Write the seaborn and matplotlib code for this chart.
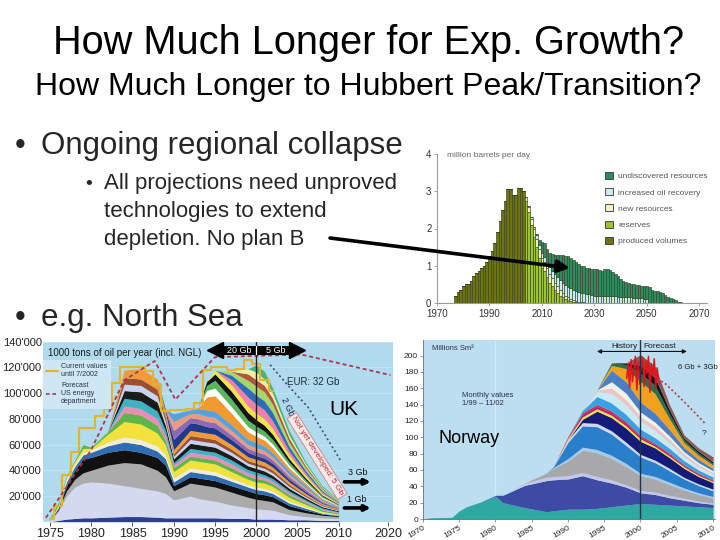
import numpy as np
import pandas as pd
import matplotlib
matplotlib.use("Agg")
import matplotlib.pyplot as plt
import seaborn as sns
from matplotlib.patches import Patch, FancyArrowPatch
from matplotlib.lines import Line2D

sns.set_theme(style="white")
plt.rcParams['font.family'] = ['Liberation Sans', 'DejaVu Sans']

# ------------------------------------------------------------------ DATA
# North Sea projection, million barrels per day
ns_categories = ["undiscovered resources", "increased oil recovery",
                 "new resources", "reserves", "produced volumes"]
ns_colors = ["#2f8a63", "#c6ecef", "#f2f0c6", "#9cc42b", "#707214"]

produced_years = list(range(1977, 2004))
produced_vals = [0.2, 0.3, 0.36, 0.45, 0.5, 0.5, 0.6, 0.72, 0.8, 0.85,
                 0.95, 1.0, 1.1, 1.25, 1.4, 1.6, 1.9, 2.2, 2.5, 2.75,
                 3.05, 3.05, 2.9, 2.9, 3.1, 3.1, 3.0]
reserves_years = list(range(2004, 2025))
reserves_vals = [2.75, 2.45, 2.1, 1.78, 1.5, 1.2, 0.95, 0.85, 0.7, 0.55,
                 0.45, 0.35, 0.27, 0.2, 0.15, 0.1, 0.07, 0.05, 0.03, 0.02, 0.01]
new_years = list(range(2004, 2029))
new_vals = [0.1, 0.12, 0.15, 0.2, 0.22, 0.24, 0.25, 0.25, 0.25, 0.24,
            0.22, 0.2, 0.18, 0.15, 0.12, 0.1, 0.08, 0.06, 0.05, 0.04,
            0.03, 0.02, 0.02, 0.01, 0.01]
ior_years = list(range(2005, 2051))
ior_vals = [0.03, 0.05, 0.07, 0.1, 0.12, 0.14, 0.14, 0.16, 0.18, 0.2,
            0.22, 0.24, 0.26, 0.27, 0.28, 0.28, 0.28, 0.28, 0.27, 0.26,
            0.25, 0.24, 0.23, 0.22, 0.21, 0.2, 0.2, 0.2, 0.2, 0.2,
            0.19, 0.19, 0.18, 0.18, 0.17, 0.17, 0.16, 0.16, 0.15, 0.15,
            0.14, 0.14, 0.13, 0.13, 0.12, 0.1]
undiscovered_years = list(range(2008, 2064))
undiscovered_vals = [0.03, 0.14, 0.31, 0.36, 0.34, 0.38, 0.45, 0.53, 0.61, 0.69,
                     0.74, 0.77, 0.82, 0.81, 0.79, 0.77, 0.75, 0.73, 0.72, 0.71,
                     0.70, 0.71, 0.72, 0.70, 0.68, 0.66, 0.70, 0.71, 0.69, 0.66,
                     0.60, 0.55, 0.48, 0.44, 0.40, 0.39, 0.37, 0.36, 0.35, 0.35,
                     0.33, 0.34, 0.35, 0.42, 0.35, 0.33, 0.32, 0.30, 0.26, 0.22,
                     0.17, 0.13, 0.10, 0.07, 0.04, 0.02]
ns_xticks = [1970, 1990, 2010, 2030, 2050, 2070]
ns_yticks = [0, 1, 2, 3, 4]

# UK production, 1000 tons of oil per year
uk_years = [1975, 1976, 1977, 1978, 1979, 1980, 1982, 1984, 1986, 1988, 1989, 1990,
            1992, 1993, 1994, 1995, 1997, 1999, 2000, 2001, 2002, 2004, 2006, 2008, 2010]
uk_navy = [0, 1, 2, 2.5, 3, 3, 3.5, 4, 4, 3.5, 3, 3, 3, 3, 3, 3, 2.5, 2.5, 2, 2, 2, 1.5, 1.5, 1, 1]
uk_lavender = [1, 7, 18, 24.5, 27, 28, 26.5, 24, 22, 20.5, 19, 14, 17, 15, 14, 13, 10.5, 8.5, 8, 7.5, 7, 4, 2.5, 2, 1.5]
uk_gray = [0, 1, 4, 6, 8, 9, 14, 18, 19, 16, 13, 7, 10, 11, 11, 11, 10, 8, 7.5, 7, 6.5, 4, 3, 2, 1.5]
uk_black = [0, 1, 4, 7, 11, 10, 10, 10, 9, 10, 9, 4, 5, 5, 5, 5, 5, 5, 4.5, 4.5, 4, 3, 2, 1, 0.6]
uk_blue = [0, 1, 3, 3, 3, 4, 5, 6, 6, 5, 5, 3, 4, 4, 4, 4, 3.5, 3, 3, 3, 2.5, 2, 1.5, 0.6, 0.4]
uk_cream = [0, 1, 2, 2, 2, 2, 3, 4, 4, 4, 3, 3, 3, 3, 3, 3, 2.5, 2, 2, 2, 2, 1.5, 1, 0.5, 0.3]
uk_yellow = [0, 1, 2, 2, 3, 1, 6, 12, 12, 10, 8, 5, 6, 6, 6, 6, 5, 4, 4, 4, 3.5, 3, 2, 1, 0.6]
uk_green = [2, 2, 1, 1, 3, 1, 2, 7, 7, 6, 3, 3, 3, 3, 3, 3, 3, 2.5, 2.5, 2.5, 2, 2, 1.5, 1, 0.8]
uk_pink = [0, 0, 0, 0, 0, 0, 0, 5, 5, 5, 4, 2, 3, 3, 3, 3, 3, 2.5, 2.5, 2, 2, 1.5, 1, 0.8, 0.5]
uk_teal = [0, 0, 0, 0, 0, 0, 0, 6, 6, 6, 4, 2, 3, 3, 3, 3, 3, 2.5, 2.5, 2, 2, 1.5, 1, 0.8, 0.5]
uk_black2 = [0, 0, 0, 0, 0, 0, 0, 6, 7, 7, 4, 3, 4, 4, 4, 4, 3.5, 3, 3, 3, 2.5, 2, 1.5, 1, 0.7]
uk_lilac = [0, 0, 0, 0, 0, 0, 0, 5, 5, 5, 3, 2, 3, 3, 3, 3, 2.5, 2, 2, 2, 2, 1.5, 1, 0.8, 0.5]
uk_brown = [0, 0, 0, 0, 0, 0, 0, 5, 5, 5, 3, 2, 3, 3, 3, 3, 2.5, 2, 2, 2, 2, 1.5, 1, 0.7, 0.5]
uk_orange = [0, 0, 0, 0, 0, 0, 0, 6, 8, 8, 4, 3, 4, 4, 4, 4, 3.5, 3, 3, 3, 2.5, 2, 1.5, 1, 0.7]
uk_navy2 = [0, 0, 0, 0, 0, 0, 0, 0, 0, 0, 2, 8, 6, 6, 5, 5, 4, 3.5, 3, 3, 3, 2, 1.5, 0.7, 0.4]
uk_purple = [0, 0, 0, 0, 0, 0, 0, 0, 0, 0, 0, 7, 4, 4, 4, 4, 3.5, 3, 3, 3, 2.5, 2, 1.5, 0.7, 0.4]
uk_salmon = [0, 0, 0, 0, 0, 0, 0, 0, 0, 0, 0, 7, 3, 4, 4, 4, 3.5, 3, 3, 3, 2.5, 2, 1.5, 0.7, 0.4]
uk_sky = [0, 0, 0, 0, 0, 0, 0, 0, 0, 0, 0, 6, 3, 4, 5, 5, 4.5, 4, 4, 3.5, 3, 2.5, 2, 1, 0.6]
uk_orange2 = [0, 0, 0, 0, 0, 0, 0, 0, 0, 0, 0, 0, 0, 1, 10, 12, 9, 6, 5, 4.5, 4, 2.5, 1.5, 1, 0.5]
uk_white = [0, 0, 0, 0, 0, 0, 0, 0, 0, 0, 0, 0, 0, 0, 5, 6, 5, 4, 3.5, 3, 3, 2, 1, 0.7, 0.3]
uk_green2 = [0, 0, 0, 0, 0, 0, 0, 0, 0, 0, 0, 0, 0, 0, 4, 6, 6, 5, 4.5, 4, 3.5, 2.5, 1.5, 1, 0.5]
uk_black3 = [0, 0, 0, 0, 0, 0, 0, 0, 0, 0, 0, 0, 0, 0, 3, 5, 6, 6, 5, 4.5, 4, 2.5, 1.5, 0.8, 0.4]
uk_yellow2 = [0, 0, 0, 0, 0, 0, 0, 0, 0, 0, 0, 0, 0, 0, 0, 3, 5, 5, 5, 5, 4.5, 3, 2, 1.2, 0.5]
uk_pink2 = [0, 0, 0, 0, 0, 0, 0, 0, 0, 0, 0, 0, 0, 0, 0, 0, 4, 7, 7, 7, 6, 3, 1.8, 1, 0.5]
uk_blue2 = [0, 0, 0, 0, 0, 0, 0, 0, 0, 0, 0, 0, 0, 0, 0, 0, 3.5, 7, 7, 7, 6.5, 3.5, 2, 1.2, 0.6]
uk_lime = [0, 0, 0, 0, 0, 0, 0, 0, 0, 0, 0, 0, 0, 0, 0, 0, 3, 6, 7, 7, 6.5, 3.5, 2.2, 1.3, 0.6]
uk_rust = [0, 0, 0, 0, 0, 0, 0, 0, 0, 0, 0, 0, 0, 0, 0, 0, 0, 5, 5, 5, 4.5, 3, 1.5, 0.8, 0.4]
uk_paleyellow = [0, 0, 0, 0, 0, 0, 0, 0, 0, 0, 0, 0, 0, 0, 0, 0, 0, 4, 6, 5, 4, 2.5, 1.5, 0.7, 0.4]
uk_seagreen = [0, 0, 0, 0, 0, 0, 0, 0, 0, 0, 0, 0, 0, 0, 0, 0, 0, 0, 5.5, 6, 4, 3.5, 1.5, 1, 0.5]
uk_layers = [uk_navy, uk_lavender, uk_gray, uk_black, uk_blue, uk_cream, uk_yellow,
             uk_green, uk_pink, uk_teal, uk_black2, uk_lilac, uk_brown, uk_orange,
             uk_navy2, uk_purple, uk_salmon, uk_sky, uk_orange2, uk_white, uk_green2,
             uk_black3, uk_yellow2, uk_pink2, uk_blue2, uk_lime, uk_rust,
             uk_paleyellow, uk_seagreen]
uk_colors = ["#2b3f8e", "#d5d9ef", "#ababab", "#111111", "#2f6db5", "#f3eed3", "#f4e23c",
             "#5fb548", "#ea8db5", "#40b2c6", "#1c1c1c", "#c7d3ef", "#9b4e30", "#f19b38",
             "#22398a", "#8d68b4", "#ec9a7c", "#58a2dc", "#f29a30", "#ffffff", "#59b65a",
             "#141414", "#f6e248", "#ee80a9", "#2e6cb8", "#a5d668", "#b4543a",
             "#f4efa0", "#48b47a"]
uk_current_years = [1975, 1976, 1977, 1978, 1979, 1980, 1981, 1982, 1983, 1984, 1985, 1986,
                    1987, 1988, 1989, 1990, 1991, 1992, 1993, 1994, 1995, 1996, 1997, 1998,
                    1999, 2000, 2001, 2002]
uk_current_vals = [2, 12, 36, 54, 73, 73, 82, 88, 108, 120, 120, 120,
                   117, 107, 86, 87, 87, 88, 92, 118, 120, 120, 118, 119,
                   126, 123, 110, 102]
uk_forecast_years = [1974.5, 1980, 1984, 1987.7, 1990.2, 1995, 2005.5, 2016.3]
uk_forecast_vals = [3, 56, 110, 125, 95, 128, 130, 114]
uk_2gb_years = [2001.7, 2004, 2006.3, 2008.3, 2010.2]
uk_2gb_vals = [122, 105, 89, 68, 48]
uk_yticks = [20, 40, 60, 80, 100, 120, 140]
uk_ytick_labels = ["20'000", "40'000", "60'000", "80'000", "100'000", "120'000", "140'000"]
uk_xticks = [1975, 1980, 1985, 1990, 1995, 2000, 2005, 2010, 2016]
uk_xtick_labels = ["1975", "1980", "1985", "1990", "1995", "2000", "2005", "2010", "2020"]

# Norway production, millions Sm3
no_years = [1970, 1971, 1974, 1975, 1976, 1978, 1980, 1981, 1984, 1987, 1988,
            1990, 1992, 1994, 1996, 1998, 2000, 2002, 2004, 2006, 2008, 2010]
no_teal = [0, 1.5, 2, 10, 15, 21, 28, 20, 14, 9, 10, 12, 12, 13, 15, 17, 19, 18, 17, 16, 15, 14]
no_indigo = [0, 0, 0, 0, 0, 0, 1, 9, 27, 38, 38, 37, 41, 35, 29, 22, 13, 12, 9, 7, 5, 4]
no_lavender = [0, 0, 0, 0, 0, 0, 0, 0, 3, 4, 4, 4, 4, 4, 4, 3, 3, 3, 3, 2.5, 2, 1.5]
no_gray = [0, 0, 0, 0, 0, 0, 0, 0, 0, 5, 10, 18, 27, 29, 26, 22, 18, 16, 13, 10, 8, 6]
no_lightblue = [0, 0, 0, 0, 0, 0, 0, 0, 0, 0, 1, 3, 4, 4, 4, 4, 3, 3, 3, 2.5, 2, 2]
no_midblue = [0, 0, 0, 0, 0, 0, 0, 0, 0, 0, 1, 20, 26, 28, 26, 22, 20, 17, 14, 11, 9, 7]
no_lightgray = [0, 0, 0, 0, 0, 0, 0, 0, 0, 0, 0, 3, 4, 4, 4, 4, 3, 3, 3, 2, 2, 2]
no_navy = [0, 0, 0, 0, 0, 0, 0, 0, 0, 0, 0, 0, 4, 15, 16, 17, 16, 15, 13, 11, 9, 8]
no_yellow = [0, 0, 0, 0, 0, 0, 0, 0, 0, 0, 0, 2, 3, 3, 3, 3, 3, 2, 2, 2, 1.5, 1.5]
no_magenta = [0, 0, 0, 0, 0, 0, 0, 0, 0, 0, 0, 1, 3, 3, 3, 3, 2, 2, 2, 1.5, 1.5, 1]
no_red = [0, 0, 0, 0, 0, 0, 0, 0, 0, 0, 0, 1, 2, 2, 2, 2, 2, 1.5, 1.5, 1, 1, 1]
no_sky = [0, 0, 0, 0, 0, 0, 0, 0, 0, 0, 0, 0, 3, 10, 10, 9, 8, 7, 6, 5, 4, 3.5]
no_cyan = [0, 0, 0, 0, 0, 0, 0, 0, 0, 0, 0, 0, 0, 6, 12, 12, 10, 9, 7, 5, 4, 3.5]
no_pink = [0, 0, 0, 0, 0, 0, 0, 0, 0, 0, 0, 0, 0, 2, 6, 6, 5, 5, 4, 3, 2.5, 2]
no_white = [0, 0, 0, 0, 0, 0, 0, 0, 0, 0, 0, 0, 0, 0, 8, 8, 6, 5, 4, 3, 2.5, 2]
no_steel = [0, 0, 0, 0, 0, 0, 0, 0, 0, 0, 0, 0, 0, 0, 14, 14, 12, 11, 8, 5, 4, 3]
no_orange = [0, 0, 0, 0, 0, 0, 0, 0, 0, 0, 0, 0, 0, 0, 6, 16, 25, 24, 13, 6, 5, 4]
no_darkgreen = [0, 0, 0, 0, 0, 0, 0, 0, 0, 0, 0, 0, 0, 0, 3, 5, 10, 10, 6, 3, 2.5, 2]
no_black = [0, 0, 0, 0, 0, 0, 0, 0, 0, 0, 0, 0, 0, 0, 0, 2, 10, 10, 5, 2.5, 2.5, 2]
no_brown = [0, 0, 0, 0, 0, 0, 0, 0, 0, 0, 0, 0, 0, 0, 0, 0, 13, 13.5, 6.5, 4, 4, 6]
no_layers = [no_teal, no_indigo, no_lavender, no_gray, no_lightblue, no_midblue,
             no_lightgray, no_navy, no_yellow, no_magenta, no_red, no_sky, no_cyan,
             no_pink, no_white, no_steel, no_orange, no_darkgreen, no_black, no_brown]
no_colors = ["#2fa8a4", "#3d4ba5", "#c5c7e8", "#a8a8aa", "#a6c9e8", "#2a7fcb",
             "#d0d6e6", "#151b78", "#f2e13a", "#b81c7e", "#d8262a", "#3ca0e4", "#c8ebf3",
             "#f1c1c6", "#eef3e4", "#4a7fc6", "#f2a11e", "#2c6e4d", "#151515", "#8b5a55"]
no_monthly_years = [1998.1, 1998.3, 1998.5, 1998.7, 1998.9, 1999.1, 1999.3, 1999.5,
                    1999.7, 1999.9, 2000.1, 2000.3, 2000.5, 2000.7, 2000.9, 2001.1,
                    2001.3, 2001.5, 2001.7, 2001.9, 2002.1, 2002.3, 2002.5, 2002.7]
no_monthly_vals = [172, 190, 160, 195, 168, 185, 199, 158, 192, 165, 188, 198,
                   162, 194, 178, 199, 155, 190, 175, 196, 160, 185, 170, 165]
no_forecast_years = [2001.3, 2003.5, 2005.5, 2007.5, 2008.9]
no_forecast_vals = [178, 165, 148, 130, 117]
no_yticks = [0, 20, 40, 60, 80, 100, 120, 140, 160, 180, 200]
no_xticks = [1970, 1975, 1980, 1985, 1990, 1995, 2000, 2005, 2010]

# ------------------------------------------------------------------ FIGURE
W, H = 720, 540
fig = plt.figure(figsize=(W / 100, H / 100), dpi=100)
fig.patch.set_facecolor("white")


def fx(px):
    return px / W


def fy(py):
    return 1 - py / H


def rect(left, top, right, bottom):
    return [fx(left), fy(bottom), (right - left) / W, (bottom - top) / H]


# ---- slide text
fig.text(fx(369), fy(54), "How Much Longer for Exp. Growth?", ha="center",
         va="baseline", fontsize=28.6, color="black")
fig.text(fx(368.5), fy(95), "How Much Longer to Hubbert Peak/Transition?", ha="center",
         va="baseline", fontsize=23, color="black")
fig.text(fx(15), fy(154), "\u2022", fontsize=22, va="baseline")
fig.text(fx(41), fy(154), "Ongoing regional collapse", fontsize=22.5, va="baseline")
fig.text(fx(85), fy(189), "\u2022", fontsize=14, va="baseline")
for txt, base in [("All projections need unproved", 189),
                  ("technologies to extend", 217),
                  ("depletion. No plan B", 245)]:
    fig.text(fx(104), fy(base), txt, fontsize=16, va="baseline")
fig.text(fx(15), fy(326), "\u2022", fontsize=22, va="baseline")
fig.text(fx(41), fy(326), "e.g. North Sea", fontsize=22.5, va="baseline")

# ---- North Sea projection (stacked bars)
ax_ns = fig.add_axes(rect(437, 154, 707, 303))
rows = []
for cat, yrs, vals in [("produced volumes", produced_years, produced_vals),
                       ("reserves", reserves_years, reserves_vals),
                       ("new resources", new_years, new_vals),
                       ("increased oil recovery", ior_years, ior_vals),
                       ("undiscovered resources", undiscovered_years, undiscovered_vals)]:
    for y, v in zip(yrs, vals):
        rows.append((y, cat, v))
ns_df = pd.DataFrame(rows, columns=["year", "category", "value"])
sns.histplot(data=ns_df, x="year", weights="value", hue="category",
             hue_order=ns_categories, palette=dict(zip(ns_categories, ns_colors)),
             multiple="stack", discrete=True, shrink=1.0, alpha=1,
             edgecolor="#34451c", linewidth=0.45, legend=False, ax=ax_ns)
ax_ns.set_xlim(1970.4, 2073)
ax_ns.set_ylim(0, 4)
ax_ns.set_xticks(ns_xticks)
ax_ns.set_yticks(ns_yticks)
ax_ns.set_xlabel("")
ax_ns.set_ylabel("")
sns.despine(ax=ax_ns)
for s in ["left", "bottom"]:
    ax_ns.spines[s].set_color("#9a9a9a")
    ax_ns.spines[s].set_linewidth(0.8)
ax_ns.tick_params(left=True, bottom=True, length=2.5, width=0.6, colors="#9a9a9a",
                  labelcolor="#333333", labelsize=7, pad=1.5)
ax_ns.text(1974, 3.96, "million barrels per day", fontsize=6, color="#666666",
           ha="left", va="center")
ns_handles = [Patch(facecolor=c, edgecolor="#333333", linewidth=0.6, label=n)
              for n, c in zip(ns_categories, ns_colors)]
ax_ns.legend(handles=ns_handles, loc="upper left", bbox_to_anchor=(fx(605), fy(172)),
             bbox_transform=fig.transFigure, frameon=False, fontsize=6,
             handlelength=0.9, handleheight=0.9, labelspacing=0.95,
             handletextpad=0.7, borderpad=0, borderaxespad=0, labelcolor="#555555")

# ---- UK (stacked areas)
ax_uk = fig.add_axes(rect(43, 341.7, 393, 521.7))
ax_uk.set_facecolor("#b0dbef")
ax_uk.stackplot(uk_years, *uk_layers, colors=uk_colors, linewidth=0)
ax_uk.set_xlim(1974.15, 2016.6)
ax_uk.set_ylim(0, 140)
for s in ax_uk.spines.values():
    s.set_visible(False)
ax_uk.set_yticks(uk_yticks)
ax_uk.set_yticklabels(uk_ytick_labels)
ax_uk.set_xticks(uk_xticks)
ax_uk.set_xticklabels(uk_xtick_labels)
ax_uk.tick_params(axis="y", left=False, length=0, labelsize=8, pad=1,
                  labelcolor="#222222")
ax_uk.tick_params(axis="x", bottom=True, length=3, width=0.7, color="#555555",
                  labelsize=9, pad=1.5, labelcolor="#222222")
ax_uk.grid(axis="y", color="#c3e4f4", lw=0.7, zorder=0)
ax_uk.set_axisbelow(True)
sns.lineplot(x=uk_current_years, y=uk_current_vals, drawstyle="steps-mid",
             color="#e3b332", lw=1.6, ax=ax_uk, zorder=4)
sns.lineplot(x=uk_forecast_years, y=uk_forecast_vals, color="#b2344d", lw=1.3,
             linestyle=(0, (2.2, 1.6)), ax=ax_uk, zorder=4)
sns.lineplot(x=uk_2gb_years, y=uk_2gb_vals, color="#42506e", lw=1.2,
             linestyle=(0, (1.2, 1.6)), ax=ax_uk, zorder=4)
ax_uk.axvline(2000, color="#222222", lw=1, zorder=5)
# black double arrow 20 Gb | 5 Gb
ax_uk.plot([1995.0, 2005.0], [133.5, 133.5], color="black", lw=6.5,
           solid_capstyle="butt", zorder=6)
ax_uk.plot([1995.0], [133.5], marker="<", ms=11, color="black", zorder=6)
ax_uk.plot([2005.0], [133.5], marker=">", ms=11, color="black", zorder=6)
ax_uk.plot([2000, 2000], [130.5, 136.5], color="white", lw=0.9, zorder=7)
ax_uk.text(1997.9, 133.5, "20 Gb", color="white", fontsize=6.5, ha="center",
           va="center", zorder=8)
ax_uk.text(2002.4, 133.5, "5 Gb", color="white", fontsize=6.5, ha="center",
           va="center", zorder=8)
ax_uk.text(1974.8, 131, "1000 tons of oil per year (incl. NGL)", fontsize=7,
           color="#1a1a1a", ha="left", va="center", zorder=8)
uk_handles = [Line2D([], [], color="#e3b332", lw=1.6, label="Current values\nuntil 7/2002"),
              Line2D([], [], color="#b2344d", lw=1.2, linestyle=(0, (2.2, 1.6)),
                     label="Forecast\nUS energy\ndepartment")]
leg = ax_uk.legend(handles=uk_handles, loc="upper left", bbox_to_anchor=(0.0, 0.9),
                   fontsize=5, frameon=True, facecolor="#cfe7f5", edgecolor="none",
                   framealpha=1, fancybox=False, handlelength=1.6, handletextpad=0.5,
                   labelspacing=0.6, borderpad=0.5, borderaxespad=0, labelcolor="#2a3040")
ax_uk.text(2006.9, 108.6, "EUR: 32 Gb", fontsize=7, color="#1d2b3a", ha="center",
           va="center", zorder=8)
ax_uk.text(2003.8, 89.5, "2 Gb", fontsize=6.5, color="#1d2b3a", rotation=-65,
           ha="center", va="center", zorder=8)
ax_uk.text(2007.4, 51, "Not yet developed: 5 Gb", fontsize=6, color="#c0282c",
           rotation=-58, ha="center", va="center", zorder=8,
           bbox=dict(boxstyle="square,pad=0.25", fc="#f4eaea", ec="#d08080", lw=0.6))
ax_uk.text(2011.2, 38, "3 Gb", fontsize=6.5, color="#111111", ha="left", va="center",
           zorder=8)
ax_uk.annotate("", xy=(2013.9, 31), xytext=(2010.7, 31),
               arrowprops=dict(arrowstyle="-|>", lw=2.6, color="black",
                               mutation_scale=8, shrinkA=0, shrinkB=0), zorder=8)
ax_uk.text(2011.0, 17, "1 Gb", fontsize=6.5, color="#111111", ha="left", va="center",
           zorder=8)
ax_uk.annotate("", xy=(2013.9, 10.7), xytext=(2010.7, 10.7),
               arrowprops=dict(arrowstyle="-|>", lw=2.6, color="black",
                               mutation_scale=8, shrinkA=0, shrinkB=0), zorder=8)
ax_uk.text(2010.6, 87.5, "UK", fontsize=15, color="black", ha="center", va="center",
           zorder=8)

# ---- Norway (stacked areas)
ax_no = fig.add_axes(rect(423, 340, 715, 519))
ax_no.set_facecolor("#bcdef0")
ax_no.axvline(1980, color="#d2ebf7", lw=0.9, zorder=0)
ax_no.stackplot(no_years, *no_layers, colors=no_colors, linewidth=0)
ax_no.set_xlim(1970, 2010.28)
ax_no.set_ylim(0, 219)
ax_no.set_yticks(no_yticks)
ax_no.set_xticks(no_xticks)
for s in ["top", "right"]:
    ax_no.spines[s].set_visible(False)
for s in ["left", "bottom"]:
    ax_no.spines[s].set_color("#6a7080")
    ax_no.spines[s].set_linewidth(0.6)
ax_no.tick_params(left=True, bottom=True, length=2, width=0.5, colors="#6a7080",
                  labelcolor="#222222", labelsize=6, pad=1.5)
plt.setp(ax_no.get_xticklabels(), rotation=30, ha="right", rotation_mode="anchor")
sns.lineplot(x=no_monthly_years, y=no_monthly_vals, color="#e0141c", lw=1.1,
             ax=ax_no, zorder=5)
sns.lineplot(x=no_forecast_years, y=no_forecast_vals, color="#b23a4e", lw=1.2,
             linestyle=(0, (1.2, 1.5)), ax=ax_no, zorder=5)
ax_no.axvline(2000, color="#1c3450", lw=1, zorder=6)
ax_no.annotate("", xy=(1994.0, 205), xytext=(2006.4, 205),
               arrowprops=dict(arrowstyle="<|-|>", color="#111111", lw=0.8,
                               mutation_scale=6, shrinkA=0, shrinkB=0), zorder=7)
ax_no.text(1999.6, 211, "History", fontsize=6, ha="right", va="center",
           color="#1a1a1a")
ax_no.text(2000.4, 211, "Forecast", fontsize=6, ha="left", va="center",
           color="#1a1a1a")
ax_no.text(2005.2, 185, "6 Gb + 3Gb", fontsize=5.5, ha="left", va="center",
           color="#1a1a1a")
ax_no.text(2008.8, 105, "?", fontsize=6, ha="center", va="center", color="#1a1a1a")
ax_no.text(1971.2, 209, "Millions Sm\u00b3", fontsize=5.5, ha="left", va="center",
           color="#2a3040")
ax_no.text(1975.4, 146, "Monthly values\n1/99 \u2013 11/02", fontsize=5.5, ha="left",
           va="center", color="#2a3040", linespacing=1.1)
ax_no.text(1972.1, 99, "Norway", fontsize=13, ha="left", va="center", color="black")

# ---- arrow from the bullet text into the projection chart
arrow = FancyArrowPatch((fx(330), fy(238)), (fx(570), fy(268)),
                        transform=fig.transFigure,
                        arrowstyle="-|>,head_length=0.8,head_width=0.4",
                        mutation_scale=9, lw=2.6, color="black",
                        shrinkA=0, shrinkB=0, zorder=10)
fig.add_artist(arrow)

fig.savefig("out.png", dpi=100, facecolor="white")
